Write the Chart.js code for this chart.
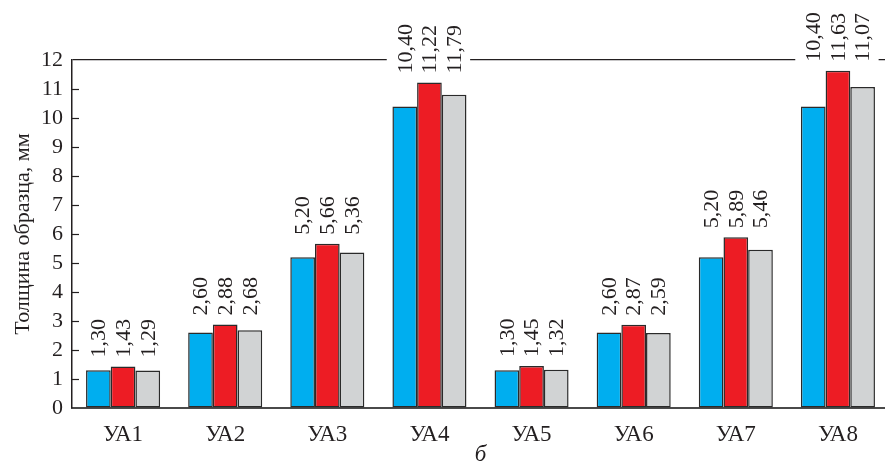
<!DOCTYPE html>
<html lang="ru">
<head>
    <meta charset="UTF-8" />
    <title>Толщина образца</title>
    <script src="https://cdn.jsdelivr.net/npm/chart.js"></script>
    <style>
        body {
            margin: 0;
            background: #fff;
            overflow: hidden;
        }
        .wrap {
            width: 890px;
            height: 468px;
        }
    </style>
</head>
<body>
    <div class="wrap">
        <canvas id="chart" width="890" height="468"></canvas>
    </div>

    <script>
        const categories = ['УА1', 'УА2', 'УА3', 'УА4', 'УА5', 'УА6', 'УА7', 'УА8'];
        const yTicks = [0, 1, 2, 3, 4, 5, 6, 7, 8, 9, 10, 11, 12];

        // bar heights as drawn
        const seriesBlue = [1.30, 2.60, 5.20, 10.40, 1.30, 2.60, 5.20, 10.40];
        const seriesRed = [1.43, 2.88, 5.66, 11.22, 1.45, 2.87, 5.89, 11.63];
        const seriesGrey = [1.29, 2.68, 5.36, 10.80, 1.32, 2.59, 5.46, 11.07];

        // printed value labels
        const labelsBlue = ['1,30', '2,60', '5,20', '10,40', '1,30', '2,60', '5,20', '10,40'];
        const labelsRed = ['1,43', '2,88', '5,66', '11,22', '1,45', '2,87', '5,89', '11,63'];
        const labelsGrey = ['1,29', '2,68', '5,36', '11,79', '1,32', '2,59', '5,46', '11,07'];

        const serif = "'Liberation Serif', 'Times New Roman', serif";
        const ink = '#231f20';

        const valueLabels = {
            id: 'valueLabels',
            afterDatasetsDraw(chart) {
                const ctx = chart.ctx;
                const texts = [labelsBlue, labelsRed, labelsGrey];
                ctx.save();
                ctx.font = '22px ' + serif;
                for (let i = 0; i < categories.length; i++) {
                    const bars = [0, 1, 2].map(d => chart.getDatasetMeta(d).data[i]);
                    const top = Math.min(...bars.map(b => b.y));
                    const base = top - 9;
                    const w = Math.max(...texts.map(t => ctx.measureText(t[i]).width));
                    const x0 = bars[0].x - 18;
                    const x1 = bars[2].x + 16;
                    ctx.fillStyle = '#fff';
                    ctx.fillRect(x0, base - w - 4, x1 - x0, w + 6);
                    ctx.fillStyle = ink;
                    bars.forEach((b, d) => {
                        ctx.save();
                        ctx.translate(b.x + 1, base);
                        ctx.rotate(-Math.PI / 2);
                        ctx.textAlign = 'left';
                        ctx.textBaseline = 'middle';
                        ctx.fillText(texts[d][i], 0, 0);
                        ctx.restore();
                    });
                }
                ctx.restore();
            }
        };

        const innerTicks = {
            id: 'innerTicks',
            afterDraw(chart) {
                const ctx = chart.ctx;
                const y = chart.scales.y;
                const left = chart.chartArea.left;
                ctx.save();
                ctx.strokeStyle = ink;
                ctx.lineWidth = 1.2;
                yTicks.slice(1, -1).forEach(v => {
                    const py = Math.round(y.getPixelForValue(v)) + 0.5;
                    ctx.beginPath();
                    ctx.moveTo(left, py);
                    ctx.lineTo(left + 7, py);
                    ctx.stroke();
                });
                ctx.restore();
            }
        };

        new Chart(document.getElementById('chart'), {
            type: 'bar',
            data: {
                labels: categories,
                datasets: [
                    { data: seriesBlue, backgroundColor: '#00aeef' },
                    { data: seriesRed, backgroundColor: '#ed1c24' },
                    { data: seriesGrey, backgroundColor: '#d1d3d4' }
                ].map(ds => Object.assign(ds, {
                    borderColor: '#2a2a2a',
                    borderWidth: 1.5,
                    borderSkipped: false,
                    barPercentage: 1,
                    categoryPercentage: 0.725
                }))
            },
            options: {
                responsive: false,
                animation: false,
                layout: { padding: { left: 0, top: 60, right: 1, bottom: 0 } },
                plugins: {
                    legend: { display: false },
                    tooltip: { enabled: false }
                },
                scales: {
                    x: {
                        grid: { display: false },
                        border: { color: '#4a4a4a', width: 2 },
                        ticks: {
                            color: ink,
                            font: { family: serif, size: 23 },
                            padding: 5
                        },
                        title: {
                            display: true,
                            text: 'б',
                            color: ink,
                            font: { family: serif, size: 23, style: 'italic', lineHeight: 1 },
                            padding: { top: 0, bottom: 2 }
                        },
                        afterFit(scale) { scale.height = 60; }
                    },
                    y: {
                        min: 0,
                        max: 12,
                        afterBuildTicks(scale) {
                            scale.ticks = yTicks.map(v => ({ value: v }));
                        },
                        grid: {
                            drawTicks: false,
                            color: c => c.tick && c.tick.value === 12 ? ink : 'rgba(0,0,0,0)',
                            lineWidth: 1.2
                        },
                        border: { color: ink, width: 1.5 },
                        ticks: {
                            color: ink,
                            font: { family: serif, size: 22 },
                            padding: 9,
                            autoSkip: false
                        },
                        title: {
                            display: true,
                            text: 'Толщина образца, мм',
                            color: ink,
                            font: { family: serif, size: 22 },
                            padding: { top: 10, bottom: 0 }
                        },
                        afterFit(scale) { scale.width = 72; }
                    }
                }
            },
            plugins: [valueLabels, innerTicks]
        });
    </script>
</body>
</html>
